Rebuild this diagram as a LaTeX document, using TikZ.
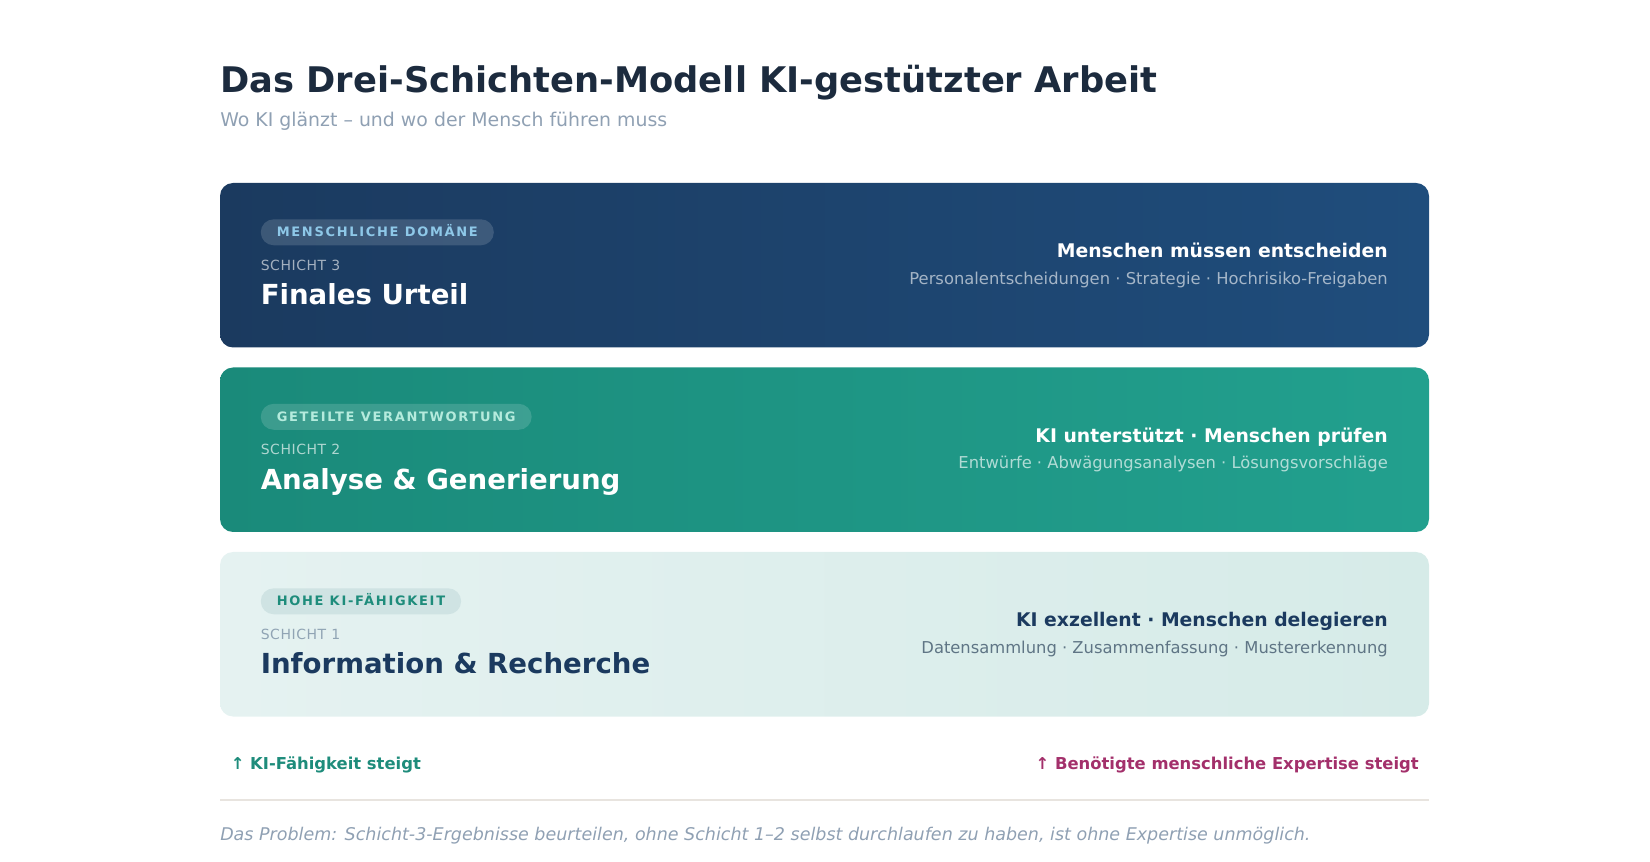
\documentclass[tikz,border=0pt]{standalone}
\usepackage{fontspec}
\setmainfont{DejaVu Sans}
\newfontfamily\pillfont[LetterSpace=13]{DejaVu Sans}
\newfontfamily\numfont[LetterSpace=4]{DejaVu Sans}
\newcommand\fs[1]{\fontsize{\fpeval{#1*0.75}pt}{\fpeval{#1*0.9}pt}\selectfont}
\definecolor{ink}{HTML}{1C2B3E}
\definecolor{mute}{HTML}{8FA0B3}
\definecolor{navya}{HTML}{1B3A5F}
\definecolor{navyb}{HTML}{1F4D7C}
\definecolor{teala}{HTML}{1A8A7A}
\definecolor{tealb}{HTML}{22A08E}
\definecolor{palea}{HTML}{E5F2F1}
\definecolor{paleb}{HTML}{D6EBE8}
\definecolor{tealink}{HTML}{1E8C7B}
\definecolor{plum}{HTML}{A3306B}
\definecolor{rule}{HTML}{E8E4DF}
\definecolor{tagsky}{HTML}{8EC8E8}
\definecolor{tagmint}{HTML}{B5EBDD}
\definecolor{tagpale}{HTML}{CFE3E3}
\definecolor{numpale}{HTML}{90A4B4}
\definecolor{listpale}{HTML}{5F7585}
\begin{document}
\begin{tikzpicture}[x=0.75pt,y=-0.75pt,
  txt/.style={anchor=base west,inner sep=0pt},
  rtxt/.style={anchor=base east,inner sep=0pt},
  pill/.style={anchor=west,rounded corners=9.75pt,inner xsep=12pt,inner ysep=0pt,
    minimum height=19.5pt,text height=7pt,text depth=0pt,text opacity=1,
    font=\pillfont\bfseries\fs{13}},
  layer/.style={rounded corners=9.75pt}]
\useasboundingbox (0,0) rectangle (1650,862);
% heading
\node[txt,text=ink,font=\bfseries\fs{35.3}] (title) at (220,92.5) {Das Drei-Schichten-Modell KI-gestützter Arbeit};
\node[txt,text=mute,font=\fs{18.9}] (sub) at (220,126.5) {Wo KI glänzt – und wo der Mensch führen muss};
% layer 3
\shade[layer,left color=navya,right color=navyb] (220,183) rectangle (1429,347.5);
\node[pill,fill=white,fill opacity=.15,text=tagsky] (tag3) at (260.5,232.3) {MENSCHLICHE DOMÄNE};
\node[txt,text=white,text opacity=.6,font=\numfont\fs{14}] (num3) at (260.5,270.3) {SCHICHT 3};
\node[txt,text=white,font=\bfseries\fs{27.6}] (name3) at (260.5,304.6) {Finales Urteil};
\node[rtxt,text=white,font=\bfseries\fs{18.8}] (head3) at (1388,257.6) {Menschen müssen entscheiden};
\node[rtxt,text=white,text opacity=.6,font=\fs{16.35}] (list3) at (1388,284.3) {Personalentscheidungen · Strategie · Hochrisiko-Freigaben};
% layer 2
\shade[layer,left color=teala,right color=tealb] (220,367.5) rectangle (1429,532);
\node[pill,fill=white,fill opacity=.15,text=tagmint] (tag2) at (260.5,416.8) {GETEILTE VERANTWORTUNG};
\node[txt,text=white,text opacity=.65,font=\numfont\fs{14}] (num2) at (260.5,454.8) {SCHICHT 2};
\node[txt,text=white,font=\bfseries\fs{27.6}] (name2) at (260.5,489.1) {Analyse \& Generierung};
\node[rtxt,text=white,font=\bfseries\fs{18.8}] (head2) at (1388,442.1) {KI unterstützt · Menschen prüfen};
\node[rtxt,text=white,text opacity=.65,font=\fs{16.35}] (list2) at (1388,468.8) {Entwürfe · Abwägungsanalysen · Lösungsvorschläge};
% layer 1
\shade[layer,left color=palea,right color=paleb] (220,552) rectangle (1429,716.5);
\node[pill,fill=tagpale,text=tealink] (tag1) at (260.5,601.3) {HOHE KI-FÄHIGKEIT};
\node[txt,text=numpale,font=\numfont\fs{14}] (num1) at (260.5,639.3) {SCHICHT 1};
\node[txt,text=navya,font=\bfseries\fs{27.6}] (name1) at (260.5,673.6) {Information \& Recherche};
\node[rtxt,text=navya,font=\bfseries\fs{18.8}] (head1) at (1388,626.6) {KI exzellent · Menschen delegieren};
\node[rtxt,text=listpale,font=\fs{16.35}] (list1) at (1388,653.3) {Datensammlung · Zusammenfassung · Mustererkennung};
% axis notes
\node[txt,text=tealink,font=\bfseries\fs{16.4}] (up) at (230.5,769) {↑ KI-Fähigkeit steigt};
\node[rtxt,text=plum,font=\bfseries\fs{16.4}] (need) at (1419,769) {↑ Benötigte menschliche Expertise steigt};
\draw[rule,line width=1.5pt] (220,800) -- (1429,800);
\node[txt,text=mute,font=\itshape\fs{17.5}] (note) at (220,840.5) {Das Problem: Schicht-3-Ergebnisse beurteilen, ohne Schicht 1–2 selbst durchlaufen zu haben, ist ohne Expertise unmöglich.};
\end{tikzpicture}
\end{document}
